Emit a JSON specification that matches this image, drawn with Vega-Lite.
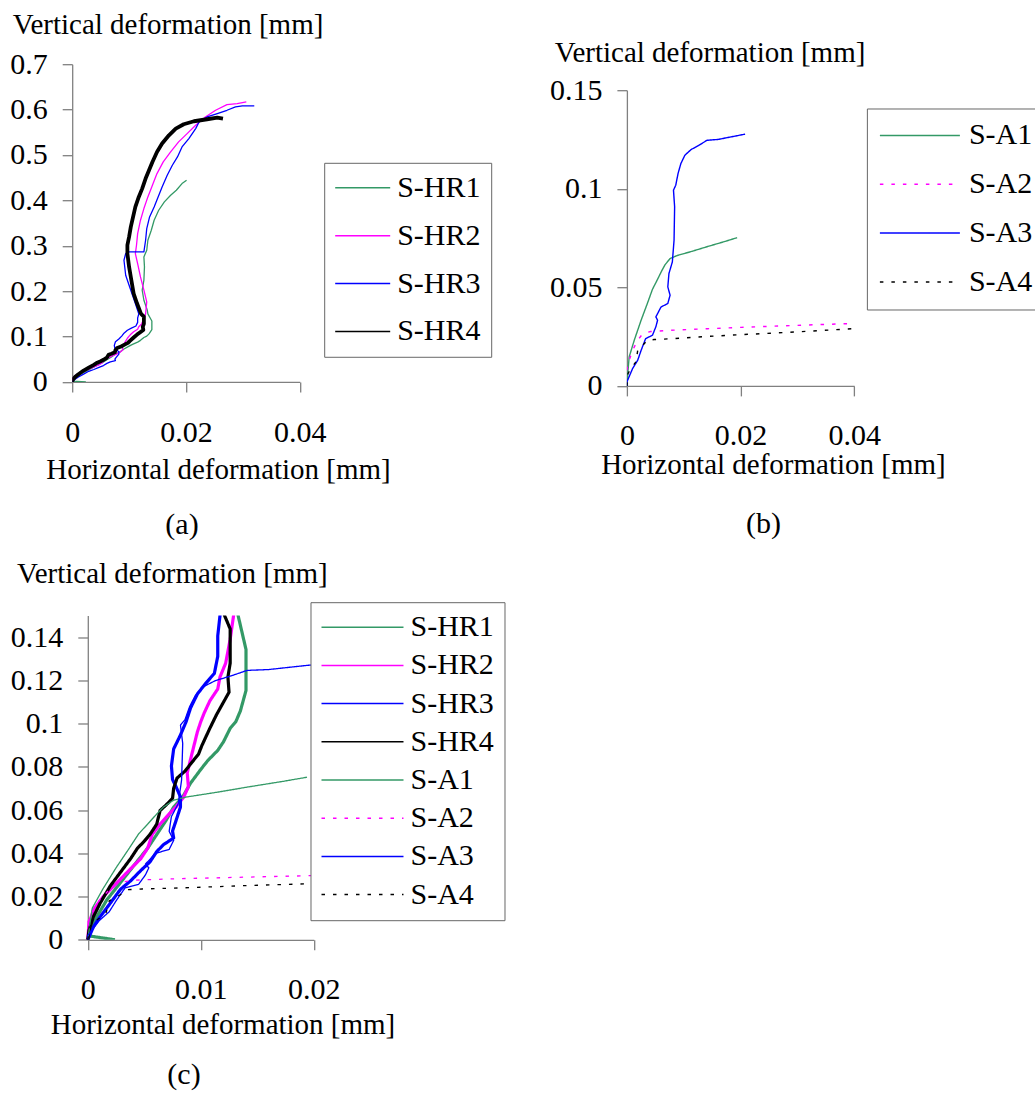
{
  "$schema": "https://vega.github.io/schema/vega-lite/v6.json",
  "padding": {"left": 9.2, "top": 10.2, "right": 5, "bottom": 5},
  "config": {
    "font": "Liberation Serif",
    "view": {"stroke": null},
    "axis": {
      "grid": false, "domainColor": "#808080", "tickColor": "#808080", "domainWidth": 1.3, "tickWidth": 1.3, "tickSize": 10,
      "labelFont": "Liberation Serif", "labelFontSize": 30, "labelColor": "#000000",
      "titleFont": "Liberation Serif", "titleFontSize": 29, "titleFontWeight": "normal", "titleColor": "#000000",
      "labelOverlap": false
    },
    "axisX": {"labelBaseline": "alphabetic", "labelPadding": 48.4, "titleAlign": "center", "titleBaseline": "alphabetic", "labelFlush": false},
    "axisY": {"labelPadding": 15, "titleAngle": 0, "titleAlign": "left", "titleBaseline": "alphabetic"},
    "title": {"font": "Liberation Serif", "fontSize": 30, "fontWeight": "normal", "color": "#000000", "orient": "bottom", "anchor": "middle", "frame": "group", "baseline": "alphabetic"},
    "line": {"strokeJoin": "round"}
  },
  "datasets": {
    "d": [
      {"s":"S-HR1","x":0.0024,"y":0},{"s":"S-HR1","x":0.0001,"y":0.0018},{"s":"S-HR1","x":0.0002,"y":0.0036},{"s":"S-HR1","x":0.0008,"y":0.0107},{"s":"S-HR1","x":0.0017,"y":0.0186},{"s":"S-HR1","x":0.0029,"y":0.0265},{"s":"S-HR1","x":0.0041,"y":0.0345},{"s":"S-HR1","x":0.0053,"y":0.0424},{"s":"S-HR1","x":0.0061,"y":0.0487},{"s":"S-HR1","x":0.0069,"y":0.055},{"s":"S-HR1","x":0.0076,"y":0.0614},{"s":"S-HR1","x":0.0084,"y":0.0661},{"s":"S-HR1","x":0.0091,"y":0.0725},{"s":"S-HR1","x":0.01,"y":0.0788},{"s":"S-HR1","x":0.0106,"y":0.0828},{"s":"S-HR1","x":0.0115,"y":0.0876},{"s":"S-HR1","x":0.012,"y":0.0915},{"s":"S-HR1","x":0.0126,"y":0.0978},{"s":"S-HR1","x":0.0131,"y":0.1009},{"s":"S-HR1","x":0.0135,"y":0.1058},{"s":"S-HR1","x":0.014,"y":0.1153},{"s":"S-HR1","x":0.014,"y":0.1343},{"s":"S-HR1","x":0.0133,"y":0.15},{"s":"S-HR1","x":0.0132,"y":0.1579},{"s":"S-HR1","x":0.0126,"y":0.1799},{"s":"S-HR1","x":0.0123,"y":0.202},{"s":"S-HR1","x":0.0126,"y":0.224},{"s":"S-HR1","x":0.0127,"y":0.2534},{"s":"S-HR1","x":0.0126,"y":0.2754},{"s":"S-HR1","x":0.0131,"y":0.2901},{"s":"S-HR1","x":0.0133,"y":0.3121},{"s":"S-HR1","x":0.0139,"y":0.3341},{"s":"S-HR1","x":0.0144,"y":0.3562},{"s":"S-HR1","x":0.0152,"y":0.3782},{"s":"S-HR1","x":0.0162,"y":0.3966},{"s":"S-HR1","x":0.0173,"y":0.4113},{"s":"S-HR1","x":0.0183,"y":0.4223},{"s":"S-HR1","x":0.0193,"y":0.437},{"s":"S-HR1","x":0.0201,"y":0.4443},
      {"s":"S-HR2","x":0,"y":0},{"s":"S-HR2","x":0.0001,"y":0.0075},{"s":"S-HR2","x":0.0005,"y":0.0139},{"s":"S-HR2","x":0.0014,"y":0.0202},{"s":"S-HR2","x":0.0026,"y":0.0265},{"s":"S-HR2","x":0.0038,"y":0.0329},{"s":"S-HR2","x":0.0047,"y":0.0376},{"s":"S-HR2","x":0.0053,"y":0.0424},{"s":"S-HR2","x":0.0057,"y":0.0487},{"s":"S-HR2","x":0.0064,"y":0.0535},{"s":"S-HR2","x":0.0072,"y":0.0582},{"s":"S-HR2","x":0.0078,"y":0.0614},{"s":"S-HR2","x":0.0085,"y":0.0661},{"s":"S-HR2","x":0.0089,"y":0.0709},{"s":"S-HR2","x":0.0088,"y":0.0772},{"s":"S-HR2","x":0.0091,"y":0.0836},{"s":"S-HR2","x":0.0094,"y":0.0899},{"s":"S-HR2","x":0.0097,"y":0.0962},{"s":"S-HR2","x":0.01,"y":0.1009},{"s":"S-HR2","x":0.0103,"y":0.1049},{"s":"S-HR2","x":0.0108,"y":0.1105},{"s":"S-HR2","x":0.0115,"y":0.116},{"s":"S-HR2","x":0.0117,"y":0.1216},{"s":"S-HR2","x":0.0122,"y":0.1279},{"s":"S-HR2","x":0.0126,"y":0.139},{"s":"S-HR2","x":0.0129,"y":0.15},{"s":"S-HR2","x":0.0131,"y":0.1763},{"s":"S-HR2","x":0.0126,"y":0.202},{"s":"S-HR2","x":0.012,"y":0.2313},{"s":"S-HR2","x":0.0115,"y":0.2607},{"s":"S-HR2","x":0.0111,"y":0.2827},{"s":"S-HR2","x":0.0113,"y":0.3011},{"s":"S-HR2","x":0.0115,"y":0.3268},{"s":"S-HR2","x":0.012,"y":0.3562},{"s":"S-HR2","x":0.0126,"y":0.3819},{"s":"S-HR2","x":0.0133,"y":0.4076},{"s":"S-HR2","x":0.0141,"y":0.4333},{"s":"S-HR2","x":0.0149,"y":0.459},{"s":"S-HR2","x":0.016,"y":0.4847},{"s":"S-HR2","x":0.0173,"y":0.5067},{"s":"S-HR2","x":0.0187,"y":0.5288},{"s":"S-HR2","x":0.0202,"y":0.5471},{"s":"S-HR2","x":0.0217,"y":0.5655},{"s":"S-HR2","x":0.0234,"y":0.5838},{"s":"S-HR2","x":0.0252,"y":0.5985},{"s":"S-HR2","x":0.0272,"y":0.611},{"s":"S-HR2","x":0.029,"y":0.6132},{"s":"S-HR2","x":0.0306,"y":0.6169},
      {"s":"S-HR3","x":0,"y":0},{"s":"S-HR3","x":0.0005,"y":0.006},{"s":"S-HR3","x":0.0011,"y":0.0107},{"s":"S-HR3","x":0.002,"y":0.017},{"s":"S-HR3","x":0.0029,"y":0.0234},{"s":"S-HR3","x":0.0038,"y":0.0273},{"s":"S-HR3","x":0.0047,"y":0.0321},{"s":"S-HR3","x":0.0055,"y":0.036},{"s":"S-HR3","x":0.0061,"y":0.0408},{"s":"S-HR3","x":0.0067,"y":0.044},{"s":"S-HR3","x":0.0076,"y":0.0471},{"s":"S-HR3","x":0.0075,"y":0.0503},{"s":"S-HR3","x":0.0078,"y":0.055},{"s":"S-HR3","x":0.0082,"y":0.0614},{"s":"S-HR3","x":0.0082,"y":0.0661},{"s":"S-HR3","x":0.0078,"y":0.0709},{"s":"S-HR3","x":0.0075,"y":0.0741},{"s":"S-HR3","x":0.0074,"y":0.0804},{"s":"S-HR3","x":0.0076,"y":0.0883},{"s":"S-HR3","x":0.0082,"y":0.0947},{"s":"S-HR3","x":0.0087,"y":0.1009},{"s":"S-HR3","x":0.0091,"y":0.1073},{"s":"S-HR3","x":0.0097,"y":0.1137},{"s":"S-HR3","x":0.0104,"y":0.1184},{"s":"S-HR3","x":0.0112,"y":0.1232},{"s":"S-HR3","x":0.0115,"y":0.1311},{"s":"S-HR3","x":0.0115,"y":0.1406},{"s":"S-HR3","x":0.0117,"y":0.15},{"s":"S-HR3","x":0.0111,"y":0.1726},{"s":"S-HR3","x":0.0103,"y":0.202},{"s":"S-HR3","x":0.0094,"y":0.235},{"s":"S-HR3","x":0.0091,"y":0.268},{"s":"S-HR3","x":0.0094,"y":0.2827},{"s":"S-HR3","x":0.01,"y":0.2864},{"s":"S-HR3","x":0.0126,"y":0.2864},{"s":"S-HR3","x":0.0129,"y":0.3121},{"s":"S-HR3","x":0.0131,"y":0.3378},{"s":"S-HR3","x":0.0136,"y":0.3635},{"s":"S-HR3","x":0.0144,"y":0.3855},{"s":"S-HR3","x":0.0151,"y":0.4076},{"s":"S-HR3","x":0.0158,"y":0.4296},{"s":"S-HR3","x":0.0167,"y":0.4553},{"s":"S-HR3","x":0.0176,"y":0.4774},{"s":"S-HR3","x":0.0185,"y":0.4957},{"s":"S-HR3","x":0.0193,"y":0.5177},{"s":"S-HR3","x":0.0205,"y":0.5361},{"s":"S-HR3","x":0.0217,"y":0.5581},{"s":"S-HR3","x":0.0223,"y":0.5728},{"s":"S-HR3","x":0.0237,"y":0.5838},{"s":"S-HR3","x":0.0255,"y":0.5912},{"s":"S-HR3","x":0.0272,"y":0.5985},{"s":"S-HR3","x":0.0287,"y":0.6059},{"s":"S-HR3","x":0.0299,"y":0.6081},{"s":"S-HR3","x":0.032,"y":0.6081},
      {"s":"S-HR4","x":0,"y":0},{"s":"S-HR4","x":0.0001,"y":0.0043},{"s":"S-HR4","x":0.0005,"y":0.0107},{"s":"S-HR4","x":0.0011,"y":0.017},{"s":"S-HR4","x":0.002,"y":0.025},{"s":"S-HR4","x":0.0029,"y":0.0313},{"s":"S-HR4","x":0.0038,"y":0.0376},{"s":"S-HR4","x":0.0044,"y":0.0424},{"s":"S-HR4","x":0.005,"y":0.0456},{"s":"S-HR4","x":0.0055,"y":0.0487},{"s":"S-HR4","x":0.0061,"y":0.0535},{"s":"S-HR4","x":0.0064,"y":0.0598},{"s":"S-HR4","x":0.0069,"y":0.0622},{"s":"S-HR4","x":0.0075,"y":0.0654},{"s":"S-HR4","x":0.0076,"y":0.0701},{"s":"S-HR4","x":0.0079,"y":0.0748},{"s":"S-HR4","x":0.0086,"y":0.078},{"s":"S-HR4","x":0.0092,"y":0.082},{"s":"S-HR4","x":0.0098,"y":0.0859},{"s":"S-HR4","x":0.0101,"y":0.0899},{"s":"S-HR4","x":0.0108,"y":0.0978},{"s":"S-HR4","x":0.0114,"y":0.1042},{"s":"S-HR4","x":0.0119,"y":0.1089},{"s":"S-HR4","x":0.0125,"y":0.1145},{"s":"S-HR4","x":0.0124,"y":0.1216},{"s":"S-HR4","x":0.0126,"y":0.1279},{"s":"S-HR4","x":0.0126,"y":0.1438},{"s":"S-HR4","x":0.0121,"y":0.15},{"s":"S-HR4","x":0.0114,"y":0.1726},{"s":"S-HR4","x":0.0108,"y":0.1946},{"s":"S-HR4","x":0.0104,"y":0.224},{"s":"S-HR4","x":0.01,"y":0.2534},{"s":"S-HR4","x":0.0097,"y":0.2827},{"s":"S-HR4","x":0.0097,"y":0.3011},{"s":"S-HR4","x":0.01,"y":0.3195},{"s":"S-HR4","x":0.0103,"y":0.3415},{"s":"S-HR4","x":0.0107,"y":0.3635},{"s":"S-HR4","x":0.0111,"y":0.3855},{"s":"S-HR4","x":0.0117,"y":0.4076},{"s":"S-HR4","x":0.0123,"y":0.4259},{"s":"S-HR4","x":0.0129,"y":0.448},{"s":"S-HR4","x":0.0135,"y":0.4663},{"s":"S-HR4","x":0.0141,"y":0.4847},{"s":"S-HR4","x":0.0149,"y":0.5067},{"s":"S-HR4","x":0.0158,"y":0.5251},{"s":"S-HR4","x":0.017,"y":0.5434},{"s":"S-HR4","x":0.0182,"y":0.5581},{"s":"S-HR4","x":0.0196,"y":0.5677},{"s":"S-HR4","x":0.0214,"y":0.5743},{"s":"S-HR4","x":0.0237,"y":0.5787},{"s":"S-HR4","x":0.0255,"y":0.5824},{"s":"S-HR4","x":0.0265,"y":0.5802},
      {"s":"S-A1","x":0,"y":0},{"s":"S-A1","x":0.0002,"y":0.0079},{"s":"S-A1","x":0.0004,"y":0.0147},{"s":"S-A1","x":0.0013,"y":0.0232},{"s":"S-A1","x":0.0025,"y":0.0333},{"s":"S-A1","x":0.0036,"y":0.0418},{"s":"S-A1","x":0.0045,"y":0.049},{"s":"S-A1","x":0.0053,"y":0.0535},{"s":"S-A1","x":0.0061,"y":0.0582},{"s":"S-A1","x":0.0067,"y":0.0614},{"s":"S-A1","x":0.0076,"y":0.0646},{"s":"S-A1","x":0.0088,"y":0.0661},{"s":"S-A1","x":0.0115,"y":0.0683},{"s":"S-A1","x":0.0142,"y":0.0707},{"s":"S-A1","x":0.0173,"y":0.0733},{"s":"S-A1","x":0.0194,"y":0.0752},
      {"s":"S-A2","x":0,"y":0.008},{"s":"S-A2","x":0.0002,"y":0.0113},{"s":"S-A2","x":0.001,"y":0.018},{"s":"S-A2","x":0.0019,"y":0.0232},{"s":"S-A2","x":0.0028,"y":0.0265},{"s":"S-A2","x":0.0042,"y":0.0276},{"s":"S-A2","x":0.0083,"y":0.0283},{"s":"S-A2","x":0.0142,"y":0.029},{"s":"S-A2","x":0.0201,"y":0.0297},{"s":"S-A2","x":0.0259,"y":0.0303},{"s":"S-A2","x":0.0318,"y":0.0309},{"s":"S-A2","x":0.0403,"y":0.0317},
      {"s":"S-A3","x":0,"y":0},{"s":"S-A3","x":0,"y":0.002},{"s":"S-A3","x":0.001,"y":0.0088},{"s":"S-A3","x":0.0019,"y":0.013},{"s":"S-A3","x":0.0025,"y":0.018},{"s":"S-A3","x":0.0033,"y":0.024},{"s":"S-A3","x":0.0045,"y":0.0257},{"s":"S-A3","x":0.0051,"y":0.03},{"s":"S-A3","x":0.0054,"y":0.0333},{"s":"S-A3","x":0.0051,"y":0.035},{"s":"S-A3","x":0.006,"y":0.04},{"s":"S-A3","x":0.0072,"y":0.0418},{"s":"S-A3","x":0.0076,"y":0.046},{"s":"S-A3","x":0.0072,"y":0.0502},{"s":"S-A3","x":0.0074,"y":0.057},{"s":"S-A3","x":0.008,"y":0.0629},{"s":"S-A3","x":0.0083,"y":0.0739},{"s":"S-A3","x":0.0084,"y":0.0908},{"s":"S-A3","x":0.0082,"y":0.0993},{"s":"S-A3","x":0.0086,"y":0.1018},{"s":"S-A3","x":0.009,"y":0.1077},{"s":"S-A3","x":0.0095,"y":0.1128},{"s":"S-A3","x":0.0102,"y":0.117},{"s":"S-A3","x":0.0113,"y":0.1199},{"s":"S-A3","x":0.0127,"y":0.1221},{"s":"S-A3","x":0.0141,"y":0.1246},{"s":"S-A3","x":0.016,"y":0.125},{"s":"S-A3","x":0.0183,"y":0.1263},{"s":"S-A3","x":0.0208,"y":0.1277},
      {"s":"S-A4","x":0,"y":0},{"s":"S-A4","x":0.0002,"y":0.0063},{"s":"S-A4","x":0.0007,"y":0.0088},{"s":"S-A4","x":0.0016,"y":0.0122},{"s":"S-A4","x":0.0019,"y":0.018},{"s":"S-A4","x":0.0028,"y":0.0206},{"s":"S-A4","x":0.0036,"y":0.0232},{"s":"S-A4","x":0.0048,"y":0.0235},{"s":"S-A4","x":0.0083,"y":0.024},{"s":"S-A4","x":0.0142,"y":0.0251},{"s":"S-A4","x":0.0201,"y":0.026},{"s":"S-A4","x":0.0259,"y":0.0268},{"s":"S-A4","x":0.0318,"y":0.0277},{"s":"S-A4","x":0.0403,"y":0.0291}
    ]
  },
  "bounds": "flush",
  "columns": 2,
  "spacing": {"row": 229.3, "column": 312.7},
  "resolve": {"scale": {"color": "independent", "strokeDash": "independent"}, "legend": {"color": "independent", "strokeDash": "independent"}},
  "concat": [
    {
      "width": 227.6, "height": 317.7,
      "title": {"text": "(a)", "dx": -4, "offset": 26},
      "data": {"name": "d"},
      "transform": [{"filter": "indexof(datum.s, 'HR') >= 0"}],
      "mark": {"type": "line", "clip": true},
      "encoding": {
        "order": {"value": null},
        "x": {"field": "x", "type": "quantitative", "scale": {"domain": [0, 0.04]},
              "axis": {"values": [0, 0.02, 0.04], "format": ".2~f", "labelPadding": 49.5, "title": "Horizontal deformation [mm]", "titleX": 145.8, "titleY": 96.3}},
        "y": {"field": "y", "type": "quantitative", "scale": {"domain": [0, 0.7]},
              "axis": {"values": [0, 0.1, 0.2, 0.3, 0.4, 0.5, 0.6, 0.7], "format": ".2~f", "title": "Vertical deformation [mm]", "titleX": -60, "titleY": -30.9}},
        "color": {"field": "s", "type": "nominal",
                  "scale": {"domain": ["S-HR1", "S-HR2", "S-HR3", "S-HR4"], "range": ["#339966", "#ff00ff", "#0000ff", "#000000"]},
                  "legend": {"title": null, "orient": "none", "direction": "vertical", "legendX": 252, "legendY": 98.6,
                             "symbolType": "stroke", "symbolSize": 3025, "symbolStrokeWidth": 1.5,
                             "labelFont": "Liberation Serif", "labelFontSize": 30, "labelColor": "#000000", "labelOffset": 6,
                             "padding": 10, "rowPadding": 17.9, "clipHeight": 30, "strokeColor": "#666666", "fillColor": "#ffffff",
                             "encode": {"symbols": {"strokeWidth": {"condition": {"test": "datum.value === 'S-HR4'", "value": 4}, "value": 1.5}}}}},
        "strokeWidth": {"condition": {"test": "datum.s === 'S-HR4'", "value": 3.8}, "value": 1.3}
      }
    },
    {
      "width": 227.3, "height": 321.7,
      "title": {"text": "(b)", "dx": 23, "offset": 30},
      "data": {"name": "d"},
      "transform": [{"filter": "indexof(datum.s, 'S-A') >= 0"}],
      "mark": {"type": "line", "clip": true, "strokeWidth": 1.4},
      "encoding": {
        "order": {"value": null},
        "x": {"field": "x", "type": "quantitative", "scale": {"domain": [0, 0.04]},
              "axis": {"values": [0, 0.02, 0.04], "format": ".2~f", "labelPadding": 48.3, "title": "Horizontal deformation [mm]", "titleX": 146, "titleY": 87.6}},
        "y": {"field": "y", "type": "quantitative", "scale": {"domain": [0, 0.15], "range": [321.7, 26]},
              "axis": {"values": [0, 0.05, 0.1, 0.15], "format": ".2~f", "title": "Vertical deformation [mm]", "titleX": -72.7, "titleY": -2.3}},
        "color": {"field": "s", "type": "nominal",
                  "scale": {"domain": ["S-A1", "S-A2", "S-A3", "S-A4"], "range": ["#339966", "#ff00ff", "#0000ff", "#000000"]},
                  "legend": {"title": null, "orient": "none", "direction": "vertical", "legendX": 240, "legendY": 44.3,
                             "symbolType": "stroke", "symbolSize": 6400, "symbolStrokeWidth": 1.5,
                             "labelFont": "Liberation Serif", "labelFontSize": 30, "labelColor": "#000000", "labelOffset": 8,
                             "padding": 12, "rowPadding": 18.8, "clipHeight": 30, "strokeColor": "#666666", "fillColor": "#ffffff"}},
        "strokeDash": {"field": "s", "type": "nominal",
                  "scale": {"domain": ["S-A1", "S-A2", "S-A3", "S-A4"], "range": [[1, 0], [3.5, 8], [1, 0], [3.5, 8]]},
                  "legend": {"title": null, "orient": "none", "direction": "vertical", "legendX": 240, "legendY": 44.3,
                             "symbolType": "stroke", "symbolSize": 6400, "symbolStrokeWidth": 1.5,
                             "labelFont": "Liberation Serif", "labelFontSize": 30, "labelColor": "#000000", "labelOffset": 8,
                             "padding": 12, "rowPadding": 18.8, "clipHeight": 30, "strokeColor": "#666666", "fillColor": "#ffffff"}}
      }
    },
    {
      "width": 241.6, "height": 324.3,
      "title": {"text": "(c)", "dx": -9, "offset": 21},
      "data": {"name": "d"},
      "mark": {"type": "line", "clip": true},
      "encoding": {
        "order": {"value": null},
        "x": {"field": "x", "type": "quantitative", "scale": {"domain": [0, 0.02], "range": [15.6, 241.6]},
              "axis": {"values": [0, 0.01, 0.02], "format": ".2~f", "labelPadding": 48.4, "title": "Horizontal deformation [mm]", "titleX": 150.3, "titleY": 93.3}},
        "y": {"field": "y", "type": "quantitative", "scale": {"domain": [0, 0.15]},
              "axis": {"values": [0, 0.02, 0.04, 0.06, 0.08, 0.1, 0.12, 0.14], "format": ".2~f", "offset": -15.6, "title": "Vertical deformation [mm]", "titleX": -71.3, "titleY": -32.7}},
        "color": {"field": "s", "type": "nominal",
                  "scale": {"domain": ["S-HR1", "S-HR2", "S-HR3", "S-HR4", "S-A1", "S-A2", "S-A3", "S-A4"], "range": ["#339966", "#ff00ff", "#0000ff", "#000000", "#339966", "#ff00ff", "#0000ff", "#000000"]},
                  "legend": {"title": null, "orient": "none", "direction": "vertical", "legendX": 238.3, "legendY": -13.3,
                             "symbolType": "stroke", "symbolSize": 6724, "symbolStrokeWidth": 1.5,
                             "labelFont": "Liberation Serif", "labelFontSize": 30, "labelColor": "#000000", "labelOffset": 6,
                             "padding": 10, "rowPadding": 8.2, "clipHeight": 30, "strokeColor": "#666666", "fillColor": "#ffffff",
                             "encode": {"symbols": {"strokeWidth": {"condition": {"test": "indexof(datum.value, 'HR') >= 0", "value": 3.5}, "value": 1.5}}}}},
        "strokeDash": {"field": "s", "type": "nominal",
                  "scale": {"domain": ["S-HR1", "S-HR2", "S-HR3", "S-HR4", "S-A1", "S-A2", "S-A3", "S-A4"], "range": [[1, 0], [1, 0], [1, 0], [1, 0], [1, 0], [3.5, 8], [1, 0], [3.5, 8]]},
                  "legend": {"title": null, "orient": "none", "direction": "vertical", "legendX": 238.3, "legendY": -13.3,
                             "symbolType": "stroke", "symbolSize": 6724, "symbolStrokeWidth": 1.5,
                             "labelFont": "Liberation Serif", "labelFontSize": 30, "labelColor": "#000000", "labelOffset": 6,
                             "padding": 10, "rowPadding": 8.2, "clipHeight": 30, "strokeColor": "#666666", "fillColor": "#ffffff",
                             "encode": {"symbols": {"strokeWidth": {"condition": {"test": "indexof(datum.value, 'HR') >= 0", "value": 3.5}, "value": 1.5}}}}},
        "strokeWidth": {"condition": {"test": "indexof(datum.s, 'HR') >= 0", "value": 3.2}, "value": 1.3}
      }
    }
  ]
}
